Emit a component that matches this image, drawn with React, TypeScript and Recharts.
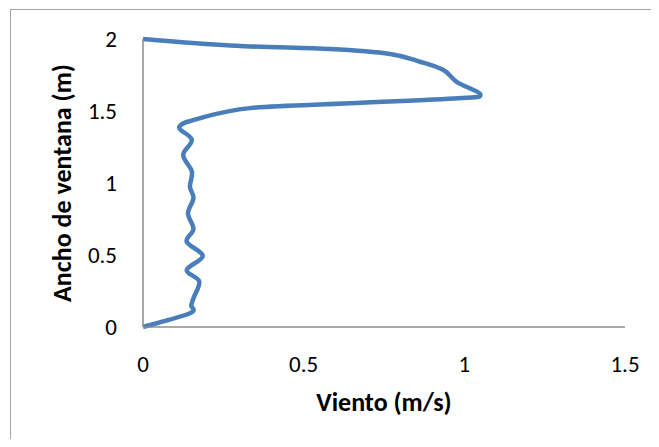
import { LineChart, Line, XAxis, YAxis } from "recharts";

// perfil de viento a lo largo del ancho de la ventana
const viento = [
  0, 0.146, 0.15, 0.157, 0.175, 0.136, 0.186, 0.136, 0.157, 0.14, 0.157, 0.146,
  0.152, 0.125, 0.152, 0.113, 0.177, 0.333, 0.644, 0.98, 1.05, 0.976, 0.935,
  0.862, 0.769, 0.582, 0.29, 0,
];
const ancho = [
  0, 0.095, 0.15, 0.2, 0.317, 0.396, 0.493, 0.592, 0.68, 0.79, 0.894, 0.975,
  1.08, 1.194, 1.3, 1.39, 1.45, 1.52, 1.553, 1.588, 1.614, 1.703, 1.785, 1.842,
  1.896, 1.93, 1.953, 2,
];

const xTicks = [0, 0.5, 1, 1.5];
const yTicks = [0, 0.5, 1, 1.5, 2];

const data = viento.map((v, i) => ({ viento: v, ancho: ancho[i] }));

// suavizado tipo Excel (Catmull-Rom en Bézier)
const excelSmooth = (context: any) => {
  let pts: [number, number][] = [];
  return {
    areaStart() {},
    areaEnd() {},
    lineStart() {
      pts = [];
    },
    lineEnd() {
      if (!pts.length) return;
      context.moveTo(pts[0][0], pts[0][1]);
      for (let i = 0; i < pts.length - 1; i++) {
        const p0 = pts[Math.max(i - 1, 0)];
        const p1 = pts[i];
        const p2 = pts[i + 1];
        const p3 = pts[Math.min(i + 2, pts.length - 1)];
        context.bezierCurveTo(
          p1[0] + (p2[0] - p0[0]) / 6,
          p1[1] + (p2[1] - p0[1]) / 6,
          p2[0] - (p3[0] - p1[0]) / 6,
          p2[1] - (p3[1] - p1[1]) / 6,
          p2[0],
          p2[1]
        );
      }
    },
    point(x: number, y: number) {
      pts.push([x, y]);
    },
  };
};

const font = "Carlito, Calibri, Lato, sans-serif";
const axisColor = "#8c8c8c";

export default function App() {
  return (
    <div
      style={{
        position: "relative",
        width: 659,
        height: 447,
        margin: -8,
        overflow: "hidden",
        background: "#fff",
      }}
    >
      <div
        style={{
          position: "absolute",
          left: 10,
          top: 9,
          width: 700,
          height: 500,
          border: "1px solid #a6a6a6",
        }}
      />
      <div style={{ position: "absolute", left: 0, top: 0 }}>
        <LineChart
          width={659}
          height={447}
          data={data}
          margin={{ top: 39, right: 34, left: 10, bottom: 20 }}
        >
          <XAxis
            dataKey="viento"
            type="number"
            domain={[0, 1.5]}
            ticks={xTicks}
            height={100}
            tickLine={false}
            tickSize={0}
            tickMargin={29}
            axisLine={{ stroke: axisColor, strokeWidth: 1.5 }}
            tick={{ fill: "#000", fontSize: 23, fontFamily: font }}
            label={{
              value: "Viento (m/s)",
              position: "insideBottom",
              offset: 16,
              fill: "#000",
              fontSize: 26,
              fontWeight: 700,
              fontFamily: font,
            }}
          />
          <YAxis
            type="number"
            domain={[0, 2]}
            ticks={yTicks}
            width={133}
            tickLine={false}
            tickSize={0}
            tickMargin={26}
            axisLine={{ stroke: axisColor, strokeWidth: 1.5 }}
            tick={{ fill: "#000", fontSize: 23, fontFamily: font }}
            label={{
              value: "Ancho de ventana (m)",
              angle: -90,
              position: "insideLeft",
              offset: 52,
              fill: "#000",
              fontSize: 26,
              fontWeight: 700,
              fontFamily: font,
              style: { textAnchor: "middle" },
            }}
          />
          <Line
            dataKey="ancho"
            type={excelSmooth as any}
            stroke="#4a7ebb"
            strokeWidth={4.5}
            dot={false}
            activeDot={false}
            isAnimationActive={false}
          />
        </LineChart>
      </div>
    </div>
  );
}
